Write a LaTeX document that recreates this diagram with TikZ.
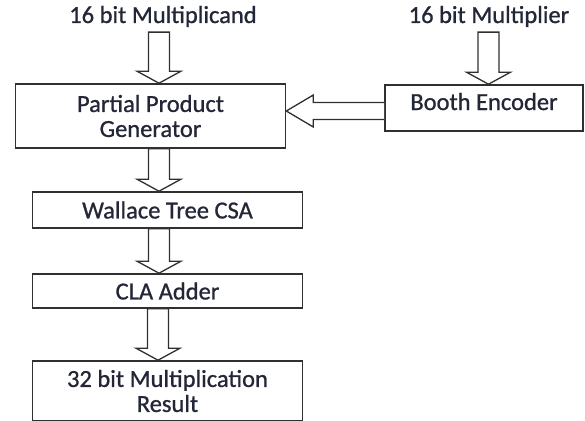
\documentclass[tikz,border=0pt]{standalone}
\usepackage{fontspec}
\setmainfont{Carlito}[FakeBold=0.9,AutoFakeBold=0.9]
\usepackage{tikz}
\usetikzlibrary{calc,positioning}
\definecolor{inkcol}{HTML}{232636}
\definecolor{edgecol}{HTML}{303030}
\tikzset{
  blockbox/.style={draw=edgecol, line width=1.6pt, minimum width=270pt,
    inner sep=0pt, align=center, text=inkcol},
  inlabel/.style={anchor=base, inner xsep=0pt, inner ysep=5pt, text=inkcol},
  blockarr/.style={draw=edgecol, line width=1.3pt, fill=white, line join=miter}
}
% hollow arrow pointing down, from #1 to #2
\newcommand{\blockdown}[2]{%
  \draw[blockarr] let \p1=(#1), \p2=(#2) in
    (\x1-10.5pt,\y1) -- (\x1-10.5pt,\y2+12pt) -- (\x1-22pt,\y2+12pt) -- (\x2,\y2)
    -- (\x1+22pt,\y2+12pt) -- (\x1+10.5pt,\y2+12pt) -- (\x1+10.5pt,\y1) -- cycle;}
% hollow arrow pointing left, from #1 to #2
\newcommand{\blockleft}[2]{%
  \draw[blockarr] let \p1=(#1), \p2=(#2) in
    (\x1,\y1+8.5pt) -- (\x2+27pt,\y1+8.5pt) -- (\x2+27pt,\y1+16pt) -- (\x2,\y2)
    -- (\x2+27pt,\y1-16pt) -- (\x2+27pt,\y1-8.5pt) -- (\x1,\y1-8.5pt);}
\begin{document}
\begin{tikzpicture}[x=1pt, y=-1pt, font=\fontsize{24.5pt}{25pt}\selectfont]
  \useasboundingbox (0,0) rectangle (585,420);
  % inputs
  \node [inlabel] (mcand) at (163,23) {16 bit Multiplicand};
  \node [inlabel] (mplier) at (489,23) {16 bit Multiplier};
  % blocks
  \node [blockbox, minimum height=64pt] (ppg) at (150.5,116) {Partial Product\\Generator};
  \node [blockbox, minimum width=198pt, minimum height=46pt, text depth=13pt] (booth) at (484,108) {Booth Encoder};
  \node [blockbox, minimum height=36pt] (wallace) at (167.5,210) {Wallace Tree CSA};
  \node [blockbox, minimum height=34pt] (cla) at (167.5,291) {CLA Adder};
  \node [blockbox, minimum height=60pt] (result) at (167.5,391) {32 bit Multiplication\\Result};
  % arrow columns
  \coordinate (lcol) at (159,0);
  \coordinate (rcol) at (488.5,0);
  \coordinate (hrow) at (0,111);
  \blockdown{lcol |- mcand.south}{lcol |- ppg.north}
  \blockdown{rcol |- mplier.south}{rcol |- booth.north}
  \blockleft{booth.west |- hrow}{ppg.east |- hrow}
  \blockdown{lcol |- ppg.south}{lcol |- wallace.north}
  \blockdown{lcol |- wallace.south}{lcol |- cla.north}
  \blockdown{158,0 |- cla.south}{158,0 |- result.north}
\end{tikzpicture}
\end{document}
